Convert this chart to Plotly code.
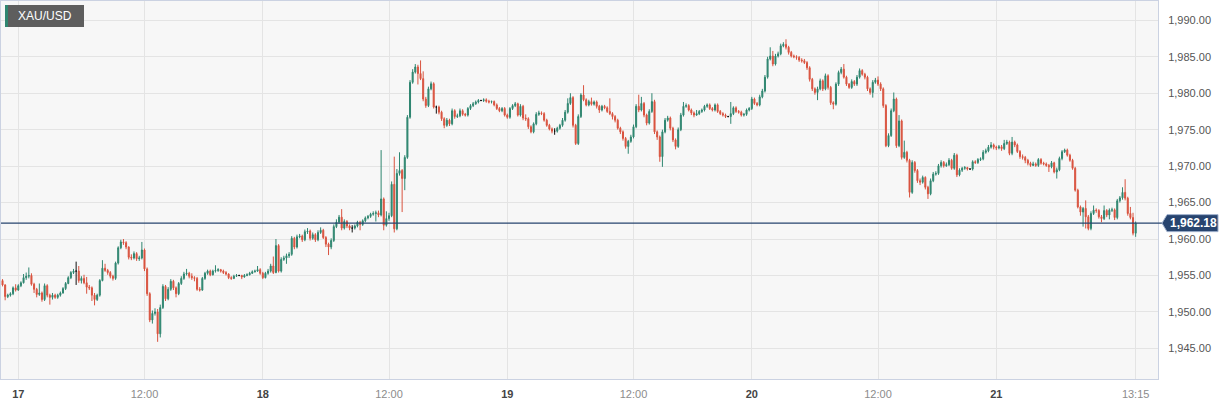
import pandas as pd
import plotly.graph_objects as go

# ---------------- data (15-minute XAU/USD candles, 16 Jul 22:15 -> 21 Jul 13:15) ----------------
first_open = 1954.0

closes = [
    1954.3, 1953.7, 1952.1, 1952.3, 1952.5, 1953.3, 1953.0, 1953.6, 1954.0, 1954.7,
    1954.9, 1955.0, 1953.8, 1953.1, 1952.4, 1952.6, 1951.7, 1953.6, 1952.3, 1952.0,
    1952.3, 1952.0, 1952.3, 1952.6, 1953.2, 1953.9, 1954.7, 1955.4, 1955.6, 1955.6,
    1954.3, 1954.6, 1954.0, 1953.4, 1953.3, 1952.3, 1951.7, 1952.3, 1954.3, 1956.0,
    1955.7, 1955.4, 1954.9, 1954.6, 1956.7, 1958.8, 1959.6, 1959.5, 1958.9, 1957.5,
    1957.4, 1958.0, 1957.3, 1957.4, 1958.5, 1955.9, 1952.5, 1948.9, 1949.8, 1950.0,
    1947.0, 1950.6, 1953.5, 1951.8, 1953.1, 1954.2, 1953.3, 1952.5, 1953.9, 1954.6,
    1955.2, 1955.3, 1954.9, 1954.7, 1954.6, 1953.1, 1953.0, 1954.6, 1955.3, 1955.6,
    1955.1, 1955.6, 1955.7, 1955.8, 1955.6, 1955.4, 1955.2, 1954.7, 1954.6, 1954.9,
    1955.0, 1955.0, 1954.8, 1955.0, 1955.1, 1955.3, 1955.5, 1955.6, 1955.8, 1955.3,
    1954.7, 1955.3, 1955.6, 1956.3, 1955.4, 1959.1, 1955.6, 1957.2, 1957.4, 1957.7,
    1957.9, 1960.1, 1958.9, 1960.3, 1960.4, 1959.9, 1961.0, 1961.1, 1960.1, 1960.6,
    1959.9, 1960.9, 1961.2, 1960.2, 1959.3, 1958.9, 1959.8, 1961.7, 1962.3, 1963.0,
    1961.5, 1962.4, 1961.8, 1961.5, 1961.5, 1961.8, 1962.3, 1962.0, 1962.5, 1962.9,
    1963.1, 1963.4, 1963.5, 1963.6, 1963.3, 1965.5, 1961.9, 1962.8, 1963.2, 1967.5,
    1961.4, 1969.0, 1969.4, 1968.3, 1971.2, 1976.7, 1981.5, 1982.9, 1983.6, 1982.7,
    1982.0, 1979.2, 1978.3, 1980.6, 1981.3, 1978.1, 1978.1, 1977.4, 1976.5, 1975.6,
    1976.3, 1975.8, 1977.6, 1976.8, 1976.9, 1977.6, 1977.1, 1977.0, 1977.9, 1978.3,
    1978.55, 1978.8, 1979.0, 1979.0, 1979.1, 1978.9, 1978.8, 1978.85, 1978.4, 1977.9,
    1977.6, 1977.9, 1977.0, 1976.7, 1977.9, 1978.3, 1978.55, 1977.0, 1978.2, 1976.6,
    1976.5, 1975.4, 1974.7, 1975.8, 1977.1, 1977.3, 1977.2, 1976.3, 1975.6, 1975.1,
    1974.8, 1974.8, 1975.2, 1975.6, 1976.3, 1977.4, 1978.6, 1979.4, 1975.6, 1973.1,
    1976.8, 1979.75, 1979.1, 1978.4, 1978.85, 1978.5, 1978.8, 1978.2, 1977.7, 1978.2,
    1978.0, 1977.5, 1977.2, 1976.8, 1976.3, 1975.2, 1974.7, 1973.8, 1972.7, 1973.4,
    1974.0, 1975.4, 1978.2, 1977.7, 1978.6, 1977.0, 1975.9, 1977.5, 1978.85, 1974.7,
    1974.0, 1971.3, 1974.7, 1976.3, 1976.6, 1975.2, 1973.6, 1972.7, 1975.0, 1977.0,
    1978.2, 1978.3, 1977.7, 1977.3, 1977.0, 1977.2, 1977.5, 1977.7, 1978.2, 1978.4,
    1977.9, 1977.7, 1978.4, 1977.5, 1977.2, 1977.0, 1976.8, 1976.8, 1977.2, 1978.0,
    1977.5, 1977.4, 1977.0, 1977.1, 1977.7, 1977.9, 1979.2, 1978.6, 1978.4, 1979.5,
    1980.3, 1982.2, 1984.7, 1985.1, 1984.0, 1985.1, 1985.4, 1986.5, 1986.7, 1986.3,
    1985.6, 1985.1, 1985.0, 1984.9, 1984.55, 1984.45, 1984.2, 1983.5, 1981.9, 1980.6,
    1980.1, 1980.6, 1981.7, 1980.6, 1982.4, 1980.8, 1978.7, 1978.5, 1981.25, 1982.85,
    1983.3, 1982.2, 1981.25, 1980.8, 1981.6, 1981.25, 1982.2, 1983.1, 1982.6, 1982.2,
    1980.6, 1980.1, 1981.5, 1981.8, 1981.25, 1980.6, 1978.3, 1972.8, 1974.2, 1977.6,
    1979.2, 1972.8, 1976.2, 1971.2, 1971.9, 1970.8, 1966.4, 1970.5, 1969.4, 1968.0,
    1967.8, 1968.45, 1967.1, 1966.2, 1968.0, 1968.9, 1969.0, 1970.05, 1970.5, 1970.05,
    1970.2, 1970.8, 1969.7, 1971.5, 1968.8, 1969.45, 1969.7, 1969.8, 1969.6, 1969.6,
    1970.6, 1970.5, 1970.9, 1971.0, 1971.9, 1972.1, 1972.6, 1972.9, 1972.6, 1972.5,
    1972.65, 1972.4, 1973.1, 1973.3, 1971.75, 1973.3, 1972.9, 1972.0, 1971.3, 1971.2,
    1970.8, 1970.4, 1970.1, 1970.3, 1970.1, 1970.9, 1970.4, 1970.3, 1970.1, 1969.9,
    1970.45, 1969.2, 1969.5, 1971.05, 1971.97, 1972.2, 1971.5, 1970.8, 1969.7, 1966.7,
    1964.4, 1963.7, 1964.2, 1963.05, 1961.45, 1963.5, 1963.96, 1963.9, 1963.05, 1962.8,
    1963.9, 1963.3, 1963.96, 1964.0, 1962.95, 1965.25, 1965.65, 1966.4, 1965.6, 1963.5,
    1962.95, 1960.8, 1962.18,
]

highs = [
    1954.5, 1954.5, 1953.8, 1952.5, 1952.7, 1953.5, 1953.8, 1953.8, 1954.2, 1955.2,
    1955.4, 1956.1, 1955.3, 1954.0, 1953.3, 1953.9, 1952.8, 1953.9, 1953.8, 1952.5,
    1952.6, 1952.5, 1952.5, 1952.8, 1953.4, 1954.1, 1954.9, 1955.6, 1955.9, 1956.9,
    1956.3, 1954.9, 1955.1, 1954.8, 1953.7, 1953.5, 1952.6, 1952.5, 1954.5, 1957.1,
    1956.6, 1955.9, 1955.6, 1955.1, 1956.9, 1959.0, 1959.9, 1960.0, 1959.7, 1959.0,
    1957.9, 1958.3, 1958.2, 1957.7, 1959.6, 1958.7, 1956.1, 1952.7, 1950.2, 1950.5,
    1950.4, 1951.0, 1953.8, 1953.7, 1953.4, 1954.5, 1954.4, 1953.5, 1954.1, 1954.9,
    1955.5, 1955.9, 1955.5, 1955.3, 1954.9, 1954.8, 1953.4, 1954.8, 1955.5, 1955.8,
    1955.8, 1955.8, 1956.4, 1956.0, 1955.9, 1955.8, 1955.6, 1955.3, 1954.9, 1955.1,
    1955.2, 1955.1, 1955.1, 1955.2, 1955.3, 1955.5, 1955.7, 1955.8, 1956.3, 1956.0,
    1955.5, 1955.5, 1955.9, 1956.6, 1957.6, 1960.0, 1959.3, 1957.5, 1957.7, 1958.0,
    1958.2, 1960.4, 1960.3, 1960.6, 1960.7, 1960.6, 1961.3, 1961.5, 1961.3, 1960.9,
    1960.8, 1961.2, 1961.6, 1961.4, 1960.4, 1959.5, 1960.1, 1962.0, 1962.7, 1963.3,
    1964.1, 1962.7, 1962.6, 1962.0, 1961.9, 1962.0, 1962.5, 1962.5, 1962.7, 1963.1,
    1963.3, 1963.6, 1963.8, 1963.9, 1963.9, 1972.2, 1965.7, 1963.8, 1963.6, 1967.9,
    1971.3, 1969.6, 1971.9, 1969.6, 1971.5, 1977.0, 1981.8, 1983.3, 1984.0, 1983.9,
    1984.5, 1983.0, 1979.5, 1980.9, 1981.6, 1981.5, 1978.3, 1978.3, 1977.6, 1976.7,
    1976.6, 1976.5, 1977.9, 1977.8, 1977.2, 1977.9, 1977.8, 1977.3, 1978.1, 1978.5,
    1978.8, 1979.0, 1979.2, 1979.1, 1979.3, 1979.3, 1979.1, 1979.0, 1979.0, 1978.6,
    1978.1, 1978.1, 1978.1, 1977.2, 1978.1, 1978.5, 1978.8, 1978.7, 1978.5, 1978.4,
    1977.1, 1976.7, 1975.6, 1976.0, 1977.4, 1977.6, 1977.5, 1977.4, 1976.5, 1975.8,
    1975.3, 1975.2, 1975.4, 1975.8, 1976.6, 1977.7, 1979.3, 1980.0, 1979.6, 1975.8,
    1977.1, 1980.0, 1981.1, 1979.3, 1979.1, 1979.4, 1979.0, 1979.0, 1978.4, 1978.4,
    1978.4, 1978.2, 1979.3, 1977.4, 1977.0, 1976.5, 1975.4, 1974.9, 1974.0, 1973.6,
    1974.3, 1975.7, 1978.5, 1979.8, 1979.5, 1978.8, 1977.2, 1977.8, 1980.0, 1979.1,
    1974.9, 1974.2, 1975.0, 1976.6, 1976.9, 1976.8, 1975.4, 1973.8, 1975.3, 1977.3,
    1978.8, 1978.6, 1978.5, 1977.9, 1977.5, 1977.7, 1977.7, 1977.9, 1978.4, 1978.6,
    1978.6, 1978.1, 1978.6, 1978.6, 1977.7, 1977.4, 1977.2, 1976.9, 1978.8, 1978.2,
    1978.2, 1977.7, 1977.6, 1977.3, 1977.9, 1978.1, 1979.5, 1979.4, 1978.8, 1979.8,
    1980.6, 1982.5, 1985.0, 1986.3, 1985.8, 1985.4, 1985.7, 1986.8, 1987.0, 1987.4,
    1986.5, 1985.8, 1985.3, 1985.2, 1985.1, 1984.8, 1984.7, 1984.4, 1983.7, 1982.1,
    1980.8, 1980.9, 1982.0, 1981.9, 1982.7, 1982.6, 1981.0, 1978.9, 1981.5, 1983.1,
    1983.6, 1984.0, 1982.4, 1981.4, 1981.9, 1981.8, 1982.5, 1983.4, 1983.3, 1982.8,
    1982.4, 1980.8, 1981.8, 1982.1, 1982.3, 1981.5, 1980.8, 1978.5, 1974.5, 1977.9,
    1980.1, 1979.4, 1977.0, 1976.4, 1973.5, 1972.1, 1971.0, 1970.8, 1970.7, 1969.6,
    1968.3, 1968.7, 1968.6, 1967.3, 1968.3, 1969.2, 1969.3, 1970.3, 1970.8, 1970.7,
    1970.5, 1971.1, 1971.0, 1971.8, 1971.7, 1969.7, 1969.9, 1970.0, 1969.9, 1969.7,
    1970.8, 1970.8, 1971.1, 1971.2, 1972.2, 1972.4, 1972.9, 1973.3, 1973.1, 1972.8,
    1972.9, 1972.9, 1973.6, 1973.6, 1973.5, 1974.0, 1973.5, 1973.1, 1972.2, 1971.6,
    1971.4, 1971.0, 1970.6, 1970.6, 1970.5, 1971.1, 1971.1, 1970.6, 1970.5, 1970.3,
    1970.7, 1970.6, 1969.8, 1971.3, 1972.2, 1972.4, 1972.4, 1971.7, 1971.0, 1969.9,
    1966.9, 1964.6, 1964.4, 1965.3, 1963.3, 1963.8, 1964.6, 1964.2, 1964.1, 1963.3,
    1964.6, 1964.1, 1964.2, 1964.3, 1964.2, 1965.5, 1965.9, 1967.1, 1968.2, 1965.8,
    1964.4, 1963.6, 1962.4,
]

lows = [
    1953.8, 1953.5, 1951.6, 1951.9, 1952.1, 1952.3, 1952.8, 1952.9, 1953.4, 1953.9,
    1954.4, 1954.6, 1953.6, 1952.6, 1952.0, 1952.2, 1951.4, 1951.5, 1952.0, 1951.0,
    1951.7, 1951.8, 1951.8, 1952.1, 1952.5, 1953.0, 1953.8, 1954.5, 1955.2, 1953.7,
    1954.0, 1953.9, 1953.8, 1952.5, 1953.0, 1951.5, 1950.9, 1951.5, 1952.1, 1954.2,
    1955.5, 1955.1, 1954.6, 1954.3, 1954.4, 1956.5, 1958.6, 1959.2, 1958.6, 1957.2,
    1957.1, 1957.2, 1957.0, 1957.0, 1957.2, 1955.6, 1952.2, 1948.6, 1948.4, 1949.5,
    1945.9, 1946.5, 1950.4, 1951.5, 1951.6, 1952.9, 1953.0, 1952.0, 1952.3, 1953.7,
    1954.4, 1955.0, 1954.6, 1954.4, 1954.2, 1952.9, 1952.8, 1952.9, 1954.4, 1955.1,
    1954.9, 1955.0, 1955.4, 1955.5, 1955.4, 1955.2, 1955.0, 1954.5, 1954.4, 1954.5,
    1954.8, 1954.9, 1954.5, 1954.7, 1954.9, 1955.0, 1955.2, 1955.4, 1955.5, 1955.1,
    1954.5, 1954.6, 1955.1, 1955.4, 1955.2, 1955.3, 1955.4, 1955.4, 1957.0, 1956.6,
    1957.4, 1957.7, 1958.6, 1958.7, 1960.1, 1959.6, 1959.7, 1960.7, 1959.8, 1959.9,
    1959.6, 1959.7, 1960.7, 1960.0, 1958.9, 1957.8, 1958.6, 1959.6, 1961.5, 1962.1,
    1961.2, 1961.3, 1961.5, 1961.2, 1960.9, 1961.3, 1961.6, 1961.2, 1961.8, 1962.3,
    1962.7, 1962.9, 1963.2, 1962.4, 1963.0, 1963.1, 1961.2, 1961.7, 1962.5, 1963.0,
    1960.9, 1961.2, 1968.7, 1963.7, 1966.7, 1971.0, 1976.5, 1981.3, 1982.7, 1981.2,
    1981.8, 1978.9, 1978.0, 1978.1, 1980.4, 1977.9, 1977.2, 1977.1, 1976.2, 1975.2,
    1975.4, 1975.5, 1975.6, 1976.5, 1976.6, 1976.7, 1976.9, 1976.8, 1976.8, 1977.7,
    1978.1, 1978.4, 1978.6, 1978.9, 1978.8, 1978.7, 1978.6, 1978.6, 1978.2, 1977.7,
    1977.4, 1977.4, 1976.8, 1976.5, 1976.5, 1977.7, 1978.1, 1976.8, 1976.8, 1976.3,
    1976.2, 1975.1, 1974.5, 1974.5, 1975.6, 1976.9, 1977.0, 1976.1, 1975.4, 1974.9,
    1974.5, 1974.3, 1974.6, 1975.0, 1975.4, 1976.1, 1977.2, 1978.4, 1975.3, 1972.9,
    1972.9, 1976.6, 1978.9, 1978.2, 1978.2, 1978.3, 1978.3, 1977.9, 1977.3, 1977.5,
    1977.8, 1977.3, 1977.0, 1976.4, 1976.0, 1975.0, 1974.4, 1973.5, 1972.4, 1971.7,
    1973.2, 1973.8, 1975.2, 1977.4, 1977.5, 1976.7, 1975.6, 1975.7, 1977.3, 1974.4,
    1973.6, 1970.6, 1969.9, 1974.5, 1976.1, 1974.9, 1973.3, 1972.3, 1972.5, 1974.8,
    1976.8, 1978.0, 1977.5, 1977.0, 1976.7, 1976.9, 1977.0, 1977.3, 1977.5, 1978.0,
    1977.7, 1977.5, 1977.5, 1977.3, 1977.0, 1976.8, 1976.6, 1976.7, 1975.8, 1977.0,
    1977.3, 1977.2, 1976.8, 1976.8, 1976.9, 1977.5, 1977.7, 1978.4, 1978.2, 1978.2,
    1979.3, 1980.1, 1982.0, 1984.5, 1983.7, 1983.8, 1984.9, 1985.2, 1986.3, 1986.0,
    1985.3, 1984.9, 1984.8, 1984.6, 1984.3, 1984.2, 1984.0, 1983.2, 1981.6, 1980.3,
    1979.8, 1979.05, 1980.4, 1980.3, 1980.4, 1980.5, 1978.4, 1977.8, 1978.3, 1981.0,
    1982.6, 1982.0, 1981.0, 1980.6, 1980.6, 1981.0, 1981.0, 1982.0, 1982.4, 1981.9,
    1980.3, 1979.8, 1979.4, 1981.3, 1981.0, 1980.3, 1978.0, 1972.6, 1972.6, 1974.0,
    1977.4, 1972.5, 1972.6, 1970.9, 1971.0, 1970.5, 1965.7, 1966.2, 1969.1, 1967.7,
    1967.4, 1967.6, 1966.8, 1965.5, 1966.0, 1967.8, 1968.7, 1968.8, 1969.8, 1969.8,
    1969.9, 1970.0, 1969.5, 1969.5, 1968.5, 1968.6, 1969.2, 1969.5, 1969.4, 1969.5,
    1969.4, 1970.3, 1970.3, 1970.7, 1970.8, 1971.7, 1971.9, 1972.4, 1972.3, 1972.2,
    1972.3, 1972.1, 1972.2, 1972.9, 1971.5, 1971.5, 1972.6, 1971.8, 1971.0, 1970.9,
    1970.4, 1970.1, 1969.9, 1970.0, 1969.9, 1969.9, 1970.2, 1970.1, 1969.9, 1969.2,
    1969.7, 1969.0, 1968.3, 1969.3, 1970.8, 1971.8, 1971.3, 1970.6, 1969.5, 1966.5,
    1964.2, 1963.2, 1961.7, 1961.45, 1961.2, 1961.2, 1963.3, 1963.6, 1962.8, 1962.3,
    1962.6, 1963.0, 1962.7, 1963.7, 1962.6, 1962.7, 1965.0, 1965.4, 1965.3, 1963.2,
    1962.7, 1960.5, 1960.3,
]

# x-axis tick labels (times) and their texts
tick_times = ["2023-07-17 00:00", "2023-07-17 12:00", "2023-07-18 00:00", "2023-07-18 12:00",
              "2023-07-19 00:00", "2023-07-19 12:00", "2023-07-20 00:00", "2023-07-20 12:00",
              "2023-07-21 00:00", "2023-07-21 13:15"]
tick_labels = ["<b>17</b>", "12:00", "<b>18</b>", "12:00", "<b>19</b>", "12:00",
               "<b>20</b>", "12:00", "<b>21</b>", "13:15"]
y_ticks = [1945, 1950, 1955, 1960, 1965, 1970, 1975, 1980, 1985, 1990]
symbol = "XAU/USD"

# ---------------- build ----------------
# 15-minute session bars; the feed has a daily pause (21:00-21:45)
times = [t for t in pd.date_range("2023-07-16 22:15", "2023-07-21 13:15", freq="15min")
         if not (t.hour == 21 and t.minute < 45)]
n = len(closes)
assert len(times) == n == len(highs) == len(lows), (len(times), n, len(highs), len(lows))
opens = [first_open] + closes[:-1]
for i in range(n):
    assert lows[i] <= min(opens[i], closes[i]) and highs[i] >= max(opens[i], closes[i]), i

pos = list(range(n))  # bars are laid out by index (session gaps collapsed)
time_pos = {t: i for i, t in enumerate(times)}
tick_vals = [time_pos[pd.Timestamp(t)] for t in tick_times]
tick_text = [t if t.startswith("<b>") else '<span style="color:#8c8c8c">%s</span>' % t for t in tick_labels]

UP = "#2f8670"
DOWN = "#d9533f"
NAVY = "#27446f"
GRID = "#e4e4e4"
BORDER = "#cbd2e2"
FONT = "Liberation Sans, Arial, sans-serif"

reg = [i for i in pos if opens[i] != closes[i]]
doji = [i for i in pos if opens[i] == closes[i]]

def sel(arr, idx):
    return [arr[i] for i in idx]

fig = go.Figure()
fig.add_trace(go.Candlestick(
    x=sel(pos, reg), open=sel(opens, reg), high=sel(highs, reg), low=sel(lows, reg), close=sel(closes, reg),
    increasing=dict(line=dict(color=UP, width=1), fillcolor=UP),
    decreasing=dict(line=dict(color=DOWN, width=1), fillcolor=DOWN),
    whiskerwidth=0, showlegend=False, hoverinfo="skip"))
fig.add_trace(go.Candlestick(
    x=sel(pos, doji), open=sel(opens, doji), high=sel(highs, doji), low=sel(lows, doji), close=sel(closes, doji),
    increasing=dict(line=dict(color="#111111", width=1), fillcolor="#111111"),
    decreasing=dict(line=dict(color="#111111", width=1), fillcolor="#111111"),
    whiskerwidth=0, showlegend=False, hoverinfo="skip"))

last = closes[-1]
shapes = [
    # blank patch (logo area) over the grid at bottom-left
    dict(type="rect", xref="paper", yref="paper", xsizemode="pixel", ysizemode="pixel",
         xanchor=0, yanchor=0, x0=11, x1=129, y0=17, y1=57,
         fillcolor="#f7f7f7", line=dict(width=0), layer="between"),
    # current price line
    dict(type="line", xref="paper", yref="y", x0=0, x1=1.004, y0=last, y1=last,
         line=dict(color=NAVY, width=1.2), layer="above"),
    # price tag with pointer
    dict(type="path", xref="paper", yref="y", xsizemode="pixel", ysizemode="pixel",
         xanchor=1, yanchor=last, path="M 4,0 L 9,8.5 L 60,8.5 L 60,-8.5 L 9,-8.5 Z",
         fillcolor=NAVY, line=dict(color="#9fb0cc", width=1), layer="above"),
    # symbol box
    dict(type="rect", xref="paper", yref="paper", xsizemode="pixel", ysizemode="pixel",
         xanchor=0, yanchor=1, x0=4, x1=83, y0=-4, y1=-26,
         fillcolor="#5e5e5e", line=dict(width=0), layer="above"),
    dict(type="rect", xref="paper", yref="paper", xsizemode="pixel", ysizemode="pixel",
         xanchor=0, yanchor=1, x0=4, x1=7, y0=-4, y1=-26,
         fillcolor=UP, line=dict(width=0), layer="above"),
]

annotations = [
    dict(xref="paper", yref="y", x=1, y=last, xanchor="center", yanchor="middle", xshift=35,
         text="<b>%s</b>" % format(last, ",.2f"), showarrow=False,
         font=dict(family=FONT, size=12, color="white")),
    dict(xref="paper", yref="paper", x=0, y=1, xanchor="left", yanchor="middle", xshift=15, yshift=-15,
         text=symbol, showarrow=False, font=dict(family=FONT, size=12, color="white")),
]

fig.update_layout(
    width=1229, height=405,
    margin=dict(l=1, r=71, t=1, b=26),
    paper_bgcolor="white", plot_bgcolor="#f7f7f7",
    font=dict(family=FONT, size=11, color="#555555"),
    boxgap=0.45,
    shapes=shapes, annotations=annotations,
    xaxis=dict(
        range=[0.42, 440.5], rangeslider=dict(visible=False),
        tickmode="array", tickvals=tick_vals, ticktext=tick_text,
        showgrid=True, gridcolor=GRID, gridwidth=1, zeroline=False,
        showline=True, linecolor=BORDER, linewidth=1, mirror=True,
        ticks="", ticklabelstandoff=5, tickfont=dict(family=FONT, size=11, color="#444444"),
    ),
    yaxis=dict(
        side="right", range=[1940.8, 1992.65],
        tickmode="array", tickvals=y_ticks, tickformat=",.2f",
        showgrid=True, gridcolor=GRID, gridwidth=1, zeroline=False,
        showline=True, linecolor=BORDER, linewidth=1, mirror=True,
        ticks="", ticklabelstandoff=7, tickfont=dict(family=FONT, size=11, color="#555555"),
    ),
)

# the page body gets no default margin so the figure sits at the window origin
fig.write_html("out.html", include_plotlyjs=True, config={"displayModeBar": False},
               post_script="document.body.style.margin='0px';document.body.style.overflow='hidden';")
